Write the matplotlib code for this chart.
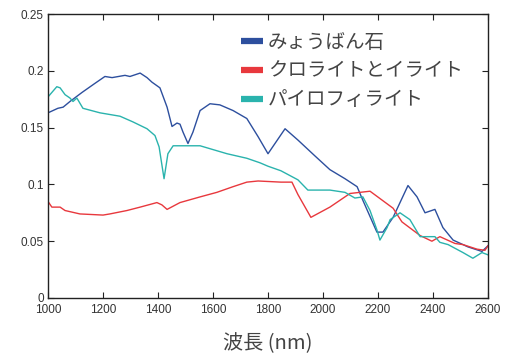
import numpy as np
from matplotlib import pyplot as plt
from matplotlib.lines import Line2D

plt.rcParams['font.family'] = ['Noto Sans CJK JP', 'DejaVu Sans']

# みょうばん石
alunite_nm = [1000, 1036, 1055, 1080, 1124, 1171, 1207, 1233, 1280, 1298, 1335, 1360, 1378,
              1407, 1433, 1451, 1469, 1480, 1491, 1509, 1527, 1553, 1589, 1625, 1673,
              1723, 1764, 1800, 1862, 1909, 1971, 2025, 2080, 2124, 2145, 2196, 2218,
              2255, 2309, 2342, 2371, 2407, 2436, 2473, 2527, 2578, 2600]
alunite_r = [0.163, 0.167, 0.168, 0.173, 0.181, 0.189, 0.195, 0.194, 0.196, 0.195, 0.198, 0.194, 0.190,
             0.185, 0.168, 0.151, 0.154, 0.153, 0.146, 0.136, 0.146, 0.165, 0.171, 0.170, 0.165,
             0.158, 0.142, 0.127, 0.149, 0.139, 0.125, 0.113, 0.105, 0.098, 0.086, 0.058, 0.058,
             0.071, 0.099, 0.089, 0.075, 0.078, 0.062, 0.051, 0.045, 0.041, 0.046]

# クロライトとイライト
chlorite_nm = [1000, 1014, 1044, 1062, 1116, 1200, 1225, 1287, 1335, 1396, 1414, 1433,
               1480, 1553, 1614, 1673, 1723, 1764, 1847, 1887, 1909, 1956, 2025, 2098,
               2171, 2255, 2287, 2353, 2396, 2425, 2480, 2509, 2560, 2589, 2600]
chlorite_r = [0.085, 0.080, 0.080, 0.077, 0.074, 0.073, 0.074, 0.077, 0.080, 0.084, 0.082, 0.078,
              0.084, 0.089, 0.093, 0.098, 0.102, 0.103, 0.102, 0.102, 0.091, 0.071, 0.080, 0.092,
              0.094, 0.079, 0.067, 0.055, 0.050, 0.054, 0.048, 0.047, 0.043, 0.042, 0.046]

# パイロフィライト
pyro_nm = [1000, 1032, 1044, 1062, 1080, 1091, 1105, 1127, 1189, 1262, 1309, 1360, 1389,
           1404, 1422, 1436, 1455, 1505, 1553, 1651, 1723, 1771, 1800, 1847, 1909, 1945,
           2025, 2080, 2116, 2145, 2171, 2196, 2207, 2233, 2244, 2280, 2316, 2353, 2407,
           2425, 2455, 2509, 2545, 2578, 2600]
pyro_r = [0.177, 0.186, 0.185, 0.179, 0.176, 0.173, 0.176, 0.167, 0.163, 0.160, 0.155, 0.149, 0.143,
          0.133, 0.105, 0.127, 0.134, 0.134, 0.134, 0.127, 0.123, 0.119, 0.116, 0.112, 0.104, 0.095,
          0.095, 0.093, 0.088, 0.089, 0.077, 0.060, 0.051, 0.062, 0.069, 0.075, 0.069, 0.054, 0.054,
          0.049, 0.047, 0.040, 0.035, 0.040, 0.038]

names = ['みょうばん石', 'クロライトとイライト', 'パイロフィライト']
colors = ['#2d4f9e', '#e8383d', '#2ab3ad']

fig = plt.figure(figsize=(5.15, 3.57), dpi=100)
ax = fig.add_axes([48/515, 1-298/357, 440/515, 284/357])

ax.plot(alunite_nm, alunite_r, color=colors[0], lw=1)
ax.plot(chlorite_nm, chlorite_r, color=colors[1], lw=1)
ax.plot(pyro_nm, pyro_r, color=colors[2], lw=1)

ax.set_xlim(1000, 2600)
ax.set_ylim(0, 0.25)
ax.set_xticks(np.arange(1000, 2601, 200))
ax.set_yticks([0, 0.05, 0.1, 0.15, 0.2, 0.25])
ax.set_yticklabels(['0', '0.05', '0.1', '0.15', '0.2', '0.25'])
ax.tick_params(direction='in', top=True, right=True, length=4, width=0.8,
               labelsize=8.5, colors='#222222', labelcolor='#333333')
ax.tick_params(axis='x', pad=4)
ax.tick_params(axis='y', pad=3)
for lab in ax.get_xticklabels() + ax.get_yticklabels():
    lab.set_family('Liberation Sans')
for s in ax.spines.values():
    s.set_linewidth(1)
    s.set_color('#222222')

ax.set_xlabel('波長 (nm)', fontsize=14.5, color='#444444', labelpad=13)

handles = [Line2D([], [], color=c, lw=4.5, solid_capstyle='butt') for c in colors]
leg = ax.legend(handles, names, loc='upper left', bbox_to_anchor=(233/515, 1-24/357),
                bbox_transform=fig.transFigure, frameon=False, fontsize=14,
                handlelength=1.15, handletextpad=0.25, labelspacing=0.4, borderaxespad=0)
for t in leg.get_texts():
    t.set_color('#444444')

fig.savefig('out.png', dpi=100)
